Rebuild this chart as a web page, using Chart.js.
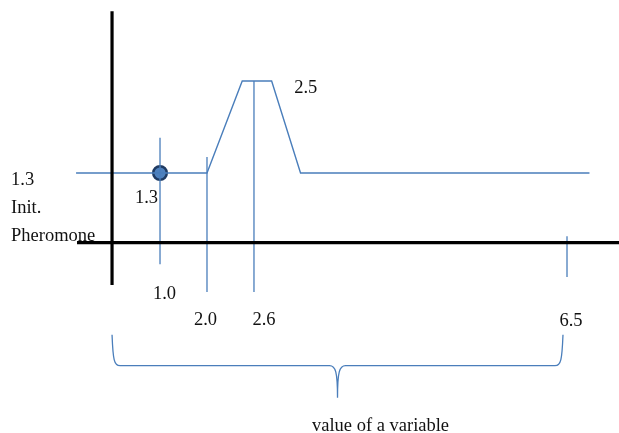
<!DOCTYPE html>
<html>
<head>
<meta charset="utf-8">
<script src="https://cdn.jsdelivr.net/npm/chart.js@4/dist/chart.umd.min.js"></script>
<style>
  html, body { margin: 0; padding: 0; background: #fff; }
  #wrap { width: 619px; height: 433px; position: relative; }
</style>
</head>
<body>
<div id="wrap"><canvas id="pheromoneChart"></canvas></div>
<script>
// pheromone level against the value of a variable
const initLevel = 1.3
const peakLevel = 2.5
const marks = [1.0, 2.0, 2.6, 6.5]
const curveX = [-0.75, 1.0, 2.0, 2.45, 2.82, 3.18, 6.78]
const curveY = [1.3, 1.3, 1.3, 2.5, 2.5, 1.3, 1.3]
const markerX = [1.0]
const markerY = [1.3]
// vertical guide through each mark: top and bottom end
const guideTop = [1.76, 1.51, 2.5, 0.12]
const guideBottom = [-0.40, -0.92, -0.92, -0.64]
// reach of the two black axes
const xAxisReach = [-0.73, 7.2]
const yAxisReach = [-0.79, 3.41]
const caption = 'value of a variable'

// the sketch is not to scale, so each axis is stretched between its labelled values
const knots = {
    x: { values: [0, 1.0, 2.0, 2.6, 6.5], at: [0.181, 0.2585, 0.3344, 0.4103, 0.916] },
    y: { values: [0, 1.3, 2.5], at: [0.4395, 0.6005, 0.8129] }
}

function segmentFor(list, v) {
    const n = list.length
    let i = 0
    if (v >= list[n - 1]) return n - 2
    while (i < n - 2 && v > list[i + 1]) i++
    return i
}
function toDecimal(k, v) {
    const i = segmentFor(k.values, v)
    const t = (v - k.values[i]) / (k.values[i + 1] - k.values[i])
    return k.at[i] + t * (k.at[i + 1] - k.at[i])
}
function fromDecimal(k, d) {
    const i = segmentFor(k.at, d)
    const t = (d - k.at[i]) / (k.at[i + 1] - k.at[i])
    return k.values[i] + t * (k.values[i + 1] - k.values[i])
}

class KnotScale extends Chart.LinearScale {
    getPixelForValue(value) {
        if (value === null || value === undefined) return NaN
        return this.getPixelForDecimal(toDecimal(knots[this.id], value))
    }
    getValueForPixel(pixel) {
        return fromDecimal(knots[this.id], this.getDecimalForPixel(pixel))
    }
}
KnotScale.id = 'knot'
KnotScale.defaults = Chart.LinearScale.defaults
Chart.register(KnotScale)

const blue = '#4a7ebb'
const line = (pts, color, width) => ({
    data: pts,
    showLine: true,
    borderColor: color,
    borderWidth: width,
    pointRadius: 0,
    fill: false
})

const datasets = [
    line(xAxisReach.map(v => ({ x: v, y: 0 })), '#000', 3.2),
    line(yAxisReach.map(v => ({ x: 0, y: v })), '#000', 3.2),
    ...marks.map((m, i) => line([{ x: m, y: guideTop[i] }, { x: m, y: guideBottom[i] }], blue, 1.3)),
    line(curveX.map((v, i) => ({ x: v, y: curveY[i] })), blue, 1.4),
    {
        data: markerX.map((v, i) => ({ x: v, y: markerY[i] })),
        pointRadius: 6.8,
        pointBackgroundColor: '#4f81bd',
        pointBorderColor: '#1f3b63',
        pointBorderWidth: 2.5
    }
]

// text labels and the brace under the variable axis
const sketchText = {
    id: 'sketchText',
    afterDatasetsDraw(chart) {
        const { ctx, chartArea: { left }, scales: { x, y } } = chart
        const base = y.getPixelForValue(0)
        ctx.save()
        ctx.fillStyle = '#111'
        ctx.font = '18.5px "Liberation Serif", "Times New Roman", serif'
        ctx.textBaseline = 'alphabetic'

        // mark values under the axis
        const dx = [4.5, -1.5, 10, 4]
        const dy = [56, 82, 82, 83]
        ctx.textAlign = 'center'
        marks.forEach((m, i) => {
            ctx.fillText(m.toFixed(1), x.getPixelForValue(m) + dx[i], base + dy[i])
        })
        ctx.fillText(markerY[0].toFixed(1), x.getPixelForValue(markerX[0]) - 13.5, y.getPixelForValue(markerY[0]) + 30.5)

        ctx.textAlign = 'left'
        const lv = y.getPixelForValue(initLevel)
        ctx.fillText(initLevel.toFixed(1), left + 11, lv + 12)
        ctx.fillText('Init.', left + 11, lv + 40)
        ctx.fillText('Pheromone', left + 11, lv + 68)
        ctx.fillText(peakLevel.toFixed(1), x.getPixelForValue(curveX[4]) + 22.5, y.getPixelForValue(peakLevel) + 12)

        // brace spanning the variable range
        const x0 = x.getPixelForValue(0)
        const x1 = x.getPixelForValue(6.45)
        const cx = (x0 + x1) / 2
        const top = base + 92, mid = base + 123, tip = base + 155
        ctx.strokeStyle = blue
        ctx.lineWidth = 1.3
        ctx.beginPath()
        ctx.moveTo(x0, top)
        ctx.bezierCurveTo(x0 + 1, mid - 6, x0 + 2, mid, x0 + 8, mid)
        ctx.lineTo(cx - 8, mid)
        ctx.bezierCurveTo(cx - 2, mid, cx, mid + 6, cx, tip)
        ctx.moveTo(cx, tip)
        ctx.bezierCurveTo(cx, mid + 6, cx + 2, mid, cx + 8, mid)
        ctx.lineTo(x1 - 8, mid)
        ctx.bezierCurveTo(x1 - 2, mid, x1 - 1, mid - 6, x1, top)
        ctx.stroke()

        ctx.textAlign = 'center'
        ctx.fillText(caption, cx + 43, tip + 33)
        ctx.restore()
    }
}

new Chart(document.getElementById('pheromoneChart'), {
    type: 'scatter',
    data: { datasets },
    options: {
        responsive: true,
        maintainAspectRatio: false,
        animation: false,
        events: [],
        layout: { padding: 0, autoPadding: false },
        plugins: { legend: { display: false }, tooltip: { enabled: false } },
        scales: {
            x: { type: 'knot', min: -2.5, max: 7.4, display: false },
            y: { type: 'knot', min: -3.5, max: 3.6, display: false }
        }
    },
    plugins: [sketchText]
})
</script>
</body>
</html>
